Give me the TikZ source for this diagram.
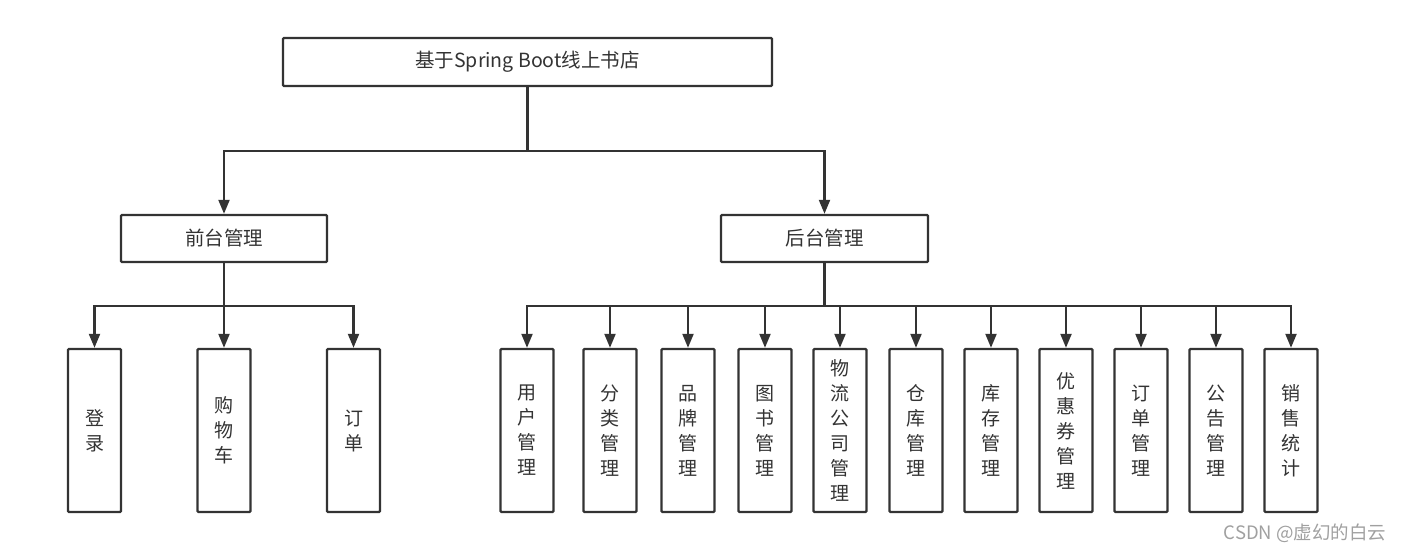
\documentclass[tikz,border=0pt]{standalone}
\usepackage{fontspec}
\setmainfont{Noto Sans CJK SC}
\usetikzlibrary{arrows.meta}
\definecolor{ln}{HTML}{333333}
\definecolor{wm}{HTML}{A0A0A0}
\begin{document}
\begin{tikzpicture}[x=1pt,y=-1pt,
  boxst/.style={draw=ln,line width=2.4pt,fill=white,text=ln,rounded corners=1pt,inner sep=0pt,font=\fontsize{19.5}{23}\selectfont},
  leaf/.style={boxst,minimum width=53pt,minimum height=163pt,align=center,font=\fontsize{19}{25}\selectfont},
  conn/.style={draw=ln,line width=2.2pt,-{Triangle[width=11pt,length=14pt]}},
  bar/.style={draw=ln,line width=2.2pt}]
\useasboundingbox (0,0) rectangle (1406,553);
\node[boxst,minimum width=489pt,minimum height=48pt] (top) at (527.5,62) {基于Spring Boot线上书店};
\node[boxst,minimum width=206pt,minimum height=47pt] (front) at (224,238.5) {前台管理};
\node[boxst,minimum width=207pt,minimum height=47pt] (back) at (824.5,238.5) {后台管理};
% front leaves
\node[leaf] (l1) at (94.5,430.5) {登\\录};
\node[leaf] (l2) at (224,430.5) {购\\物\\车};
\node[leaf] (l3) at (353.5,430.5) {订\\单};
% back leaves
\node[leaf] (b1) at (527,430.5) {用\\户\\管\\理};
\node[leaf] (b2) at (610,430.5) {分\\类\\管\\理};
\node[leaf] (b3) at (688,430.5) {品\\牌\\管\\理};
\node[leaf] (b4) at (765,430.5) {图\\书\\管\\理};
\node[leaf] (b5) at (840,430.5) {物\\流\\公\\司\\管\\理};
\node[leaf] (b6) at (916,430.5) {仓\\库\\管\\理};
\node[leaf] (b7) at (991,430.5) {库\\存\\管\\理};
\node[leaf] (b8) at (1066,430.5) {优\\惠\\券\\管\\理};
\node[leaf] (b9) at (1141,430.5) {订\\单\\管\\理};
\node[leaf] (b10) at (1216,430.5) {公\\告\\管\\理};
\node[leaf] (b11) at (1291,430.5) {销\\售\\统\\计};
% connectors
\coordinate (j0) at (527.5,151);
\coordinate (j1) at (224,306);
\coordinate (j2) at (824.5,306);
\draw[bar] (top.south) -- (j0);
\draw[conn] (j0) -| (front.north);
\draw[conn] (j0) -| (back.north);
\draw[bar] (front.south) -- (j1);
\foreach \n in {l1,l2,l3} \draw[conn] (j1) -| (\n.north);
\draw[bar] (back.south) -- (j2);
\foreach \n in {b1,b2,b3,b4,b5,b6,b7,b8,b9,b10,b11} \draw[conn] (j2) -| (\n.north);
\node[text=wm,font=\fontsize{18.5}{20}\selectfont,inner sep=0pt] (wmk) at (1305,533) {CSDN @虚幻的白云};
\end{tikzpicture}
\end{document}
